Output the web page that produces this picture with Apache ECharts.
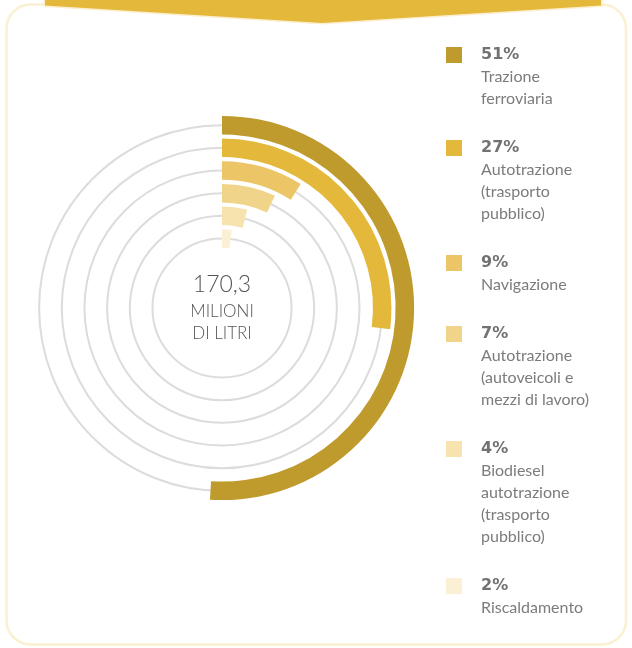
<!DOCTYPE html>
<html>
<head>
<meta charset="utf-8">
<script src="https://cdn.jsdelivr.net/npm/echarts@6/dist/echarts.min.js"></script>
<style>
  html, body { margin: 0; padding: 0; background: #ffffff; }
  #chart { width: 632px; height: 648px; }
</style>
</head>
<body>
<div id="chart"></div>
<script>
// Consumo di gasolio per impiego (quote percentuali)
const categories = [
  'Trazione ferroviaria',
  'Autotrazione (trasporto pubblico)',
  'Navigazione',
  'Autotrazione (autoveicoli e mezzi di lavoro)',
  'Biodiesel autotrazione (trasporto pubblico)',
  'Riscaldamento'
];
const shares = [51, 27, 9, 7, 4, 2];
const legendLines = [
  ['Trazione', 'ferroviaria'],
  ['Autotrazione', '(trasporto', 'pubblico)'],
  ['Navigazione'],
  ['Autotrazione', '(autoveicoli e', 'mezzi di lavoro)'],
  ['Biodiesel', 'autotrazione', '(trasporto', 'pubblico)'],
  ['Riscaldamento']
];
const colors = ['#BF9A2C', '#E4B83B', '#EBC566', '#F0D489', '#F6E3AE', '#FBF0D6'];
const totalLabel = '170,3';
const unitLines = ['MILIONI', 'DI LITRI'];

// ring layout
const CX = 222, CY = 308;
const R_IN = 58.2, R_OUT = 194.2;
const BAND = (R_OUT - R_IN) / categories.length;

const chart = echarts.init(document.getElementById('chart'), null, { renderer: 'canvas' });

const FONT = 'Lato, "Open Sans", sans-serif';

// legend block on the right
const legendItems = [];
let itemTop = 44;
const LINE_H = 22;
shares.forEach(function (v, i) {
  const lines = legendLines[i];
  const text = ['{p|' + v + '%}'].concat(lines.map(function (l) { return '{t|' + l + '}'; })).join('\n');
  legendItems.push({
    type: 'rect',
    shape: { x: 446, y: itemTop + 3, width: 16, height: 16 },
    style: { fill: colors[i] }
  });
  legendItems.push({
    type: 'text',
    x: 481, y: itemTop,
    style: {
      text: text,
      fontFamily: FONT,
      verticalAlign: 'top',
      rich: {
        p: { fontFamily: '"DejaVu Sans", sans-serif', fontWeight: 'bold', fontSize: 16, fill: '#727272', lineHeight: LINE_H },
        t: { fontFamily: FONT, fontSize: 16, fill: '#7c7c7c', lineHeight: LINE_H }
      }
    }
  });
  itemTop += (lines.length + 1) * LINE_H + 27;
});

const option = {
  backgroundColor: '#ffffff',
  animation: false,
  polar: [
    { center: [CX, CY], radius: [R_IN, R_OUT] },
    { center: [CX, CY], radius: [R_IN + BAND / 2, R_OUT - BAND / 2] }
  ],
  angleAxis: [
    {
      polarIndex: 0, type: 'value', min: 0, max: 100, startAngle: 90, clockwise: true,
      axisLine: { show: false }, axisTick: { show: false }, axisLabel: { show: false }, splitLine: { show: false }
    },
    {
      polarIndex: 1, type: 'value', min: 0, max: 100, startAngle: 90,
      axisLine: { show: false }, axisTick: { show: false }, axisLabel: { show: false }, splitLine: { show: false }
    }
  ],
  radiusAxis: [
    {
      polarIndex: 0, type: 'category', data: categories, inverse: true,
      axisLine: { show: false }, axisTick: { show: false }, axisLabel: { show: false }, splitLine: { show: false }
    },
    {
      // one grey track circle through the middle of each ring
      polarIndex: 1, type: 'category', data: categories, inverse: true, boundaryGap: false,
      axisLine: { show: false }, axisTick: { show: false, interval: 0 }, axisLabel: { show: false, interval: 0 },
      splitLine: { show: true, interval: 0, lineStyle: { color: '#dcdcdc', width: 2 } }
    }
  ],
  series: [{
    type: 'bar',
    coordinateSystem: 'polar',
    polarIndex: 0,
    barWidth: 18.5,
    data: shares.map(function (v, i) {
      return { value: v, itemStyle: { color: colors[i] } };
    }),
    z: 3
  }],
  graphic: [
    // card outline
    {
      type: 'rect', z: 0,
      shape: { x: 6.5, y: 4.5, width: 619.5, height: 640, r: 24 },
      style: { fill: 'none', stroke: '#FCF0D3', lineWidth: 2.5 }
    },
    // header arrow
    {
      type: 'polygon', z: 1,
      shape: { points: [[45, 0], [601, 0], [601, 5.5], [322, 23], [45, 5.5]] },
      style: { fill: '#E4B93B', stroke: '#FCEFD0', lineWidth: 3 }
    },
    {
      type: 'polygon', z: 2,
      shape: { points: [[45, -3], [601, -3], [601, 5.5], [322, 23], [45, 5.5]] },
      style: { fill: '#E4B93B' }
    },
    // total in the middle
    {
      type: 'text', x: CX, y: CY - 23, z: 5,
      style: { text: totalLabel, fontFamily: FONT, fontWeight: 300, fontSize: 23, fill: '#555555', align: 'center', verticalAlign: 'middle' }
    },
    {
      type: 'text', x: CX, y: CY + 4, z: 5,
      style: { text: unitLines[0], fontFamily: FONT, fontWeight: 300, fontSize: 17, fill: '#555555', align: 'center', verticalAlign: 'middle' }
    },
    {
      type: 'text', x: CX, y: CY + 25.5, z: 5,
      style: { text: unitLines[1], fontFamily: FONT, fontWeight: 300, fontSize: 17, fill: '#555555', align: 'center', verticalAlign: 'middle' }
    }
  ].concat(legendItems)
};

chart.setOption(option);
</script>
</body>
</html>
